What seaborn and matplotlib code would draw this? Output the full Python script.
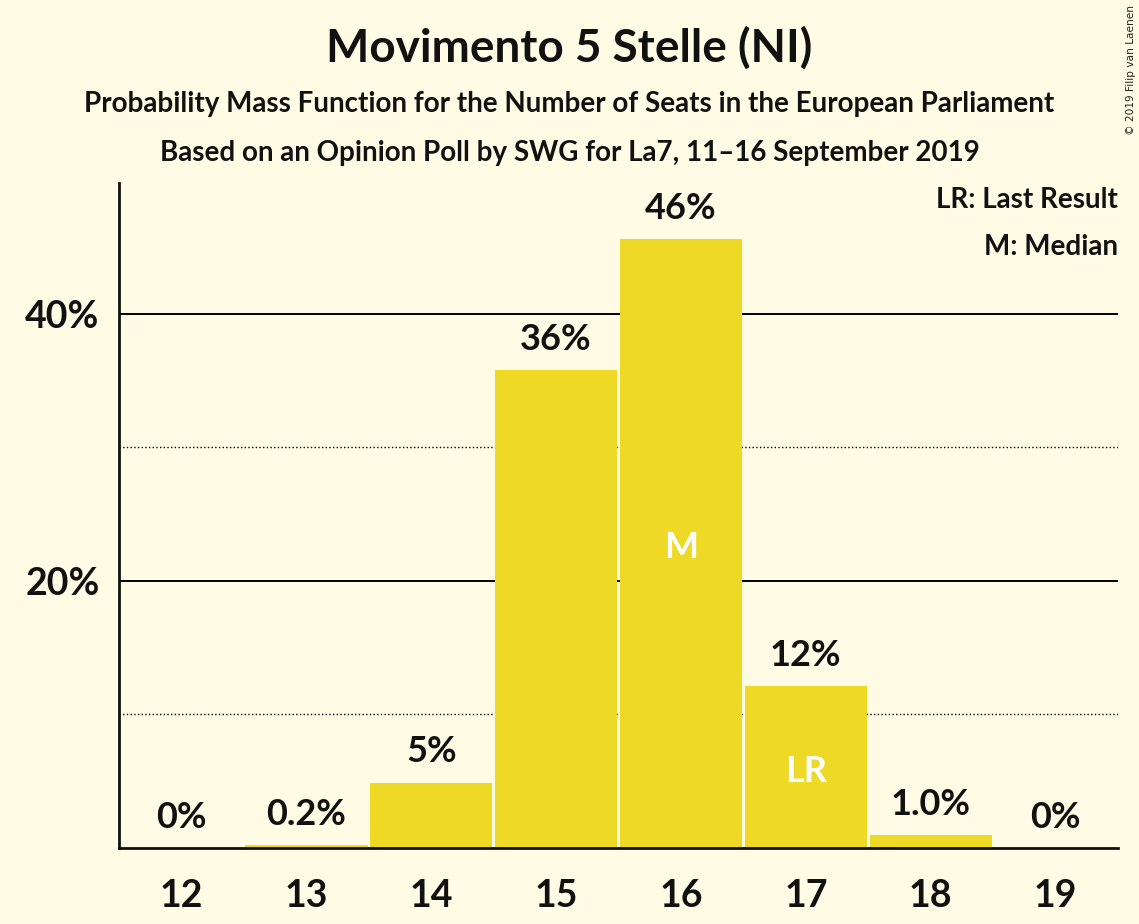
import pandas as pd
import matplotlib
matplotlib.use('Agg')
import matplotlib.pyplot as plt
import seaborn as sns

seats = ['12', '13', '14', '15', '16', '17', '18', '19']
probability = [0.0, 0.2, 4.9, 35.8, 45.6, 12.1, 1.0, 0.0]
value_labels = ['0%', '0.2%', '5%', '36%', '46%', '12%', '1.0%', '0%']
median_seat = '16'
last_result_seat = '17'

bg = '#fffbe4'
bar_color = '#eed926'

sns.set_style('white')
plt.rcParams['font.family'] = ['Lato', 'DejaVu Sans']
plt.rcParams['font.weight'] = 'bold'

df = pd.DataFrame({'seats': seats, 'probability': probability})

fig = plt.figure(figsize=(11.39, 9.24), dpi=100, facecolor=bg)
ax = fig.add_axes([0.1045, 0.0823, 0.8771, 0.7197])
ax.set_facecolor(bg)

# grid behind the bars
for y, style, lw in [(10, ':', 1.0), (20, '-', 1.4), (30, ':', 1.0), (40, '-', 1.4)]:
    ax.axhline(y, color='black', linestyle=style, linewidth=lw, zorder=0)

sns.barplot(data=df, x='seats', y='probability', order=seats, color=bar_color,
            width=0.98, linewidth=0, saturation=1, ax=ax, zorder=2)

for i, (v, lab) in enumerate(zip(probability, value_labels)):
    ax.annotate(lab, (i, v), xytext=(0, 22), textcoords='offset points',
                ha='center', va='center', fontsize=26, fontweight='bold',
                color='#111111', zorder=3)

for seat, mark in [(median_seat, 'M'), (last_result_seat, 'LR')]:
    i = seats.index(seat)
    ax.annotate(mark, (i, probability[i] / 2), xytext=(0, -3), textcoords='offset points',
                ha='center', va='center', fontsize=26, fontweight='bold',
                color='white', zorder=3)

ax.set_xlim(-0.5, 7.5)
ax.set_ylim(0, 49.8)
ax.set_yticks([20, 40])
ax.set_yticklabels(['20%', '40%'])
ax.set_xlabel('')
ax.set_ylabel('')
ax.tick_params(axis='both', length=0, labelsize=27, colors='#111111', pad=14)
ax.tick_params(axis='x', pad=22)
for lab in ax.get_xticklabels() + ax.get_yticklabels():
    lab.set_fontweight('bold')

for side in ['top', 'right']:
    ax.spines[side].set_visible(False)
for side in ['left', 'bottom']:
    ax.spines[side].set_linewidth(2)
    ax.spines[side].set_color('#111111')
    ax.spines[side].set_zorder(4)

ax.text(1.0, 0.975, 'LR: Last Result', transform=ax.transAxes, ha='right',
        va='center', fontsize=20, fontweight='bold', color='#111111')
ax.text(1.0, 0.904, 'M: Median', transform=ax.transAxes, ha='right',
        va='center', fontsize=20, fontweight='bold', color='#111111')

fig.text(0.5, 0.948, 'Movimento 5 Stelle (NI)', ha='center', va='center',
         fontsize=33, fontweight='bold', color='#111111')
fig.text(0.5, 0.887, 'Probability Mass Function for the Number of Seats in the European Parliament',
         ha='center', va='center', fontsize=20, fontweight='bold', color='#111111')
fig.text(0.5, 0.834, 'Based on an Opinion Poll by SWG for La7, 11–16 September 2019',
         ha='center', va='center', fontsize=20, fontweight='bold', color='#111111')
fig.text(0.993, 0.995, '© 2019 Filip van Laenen', rotation=90, ha='center', va='top',
         fontsize=7.6, fontweight='normal', color='#222222', family=['DejaVu Sans'])

fig.savefig('out.png', dpi=100, facecolor=bg)
